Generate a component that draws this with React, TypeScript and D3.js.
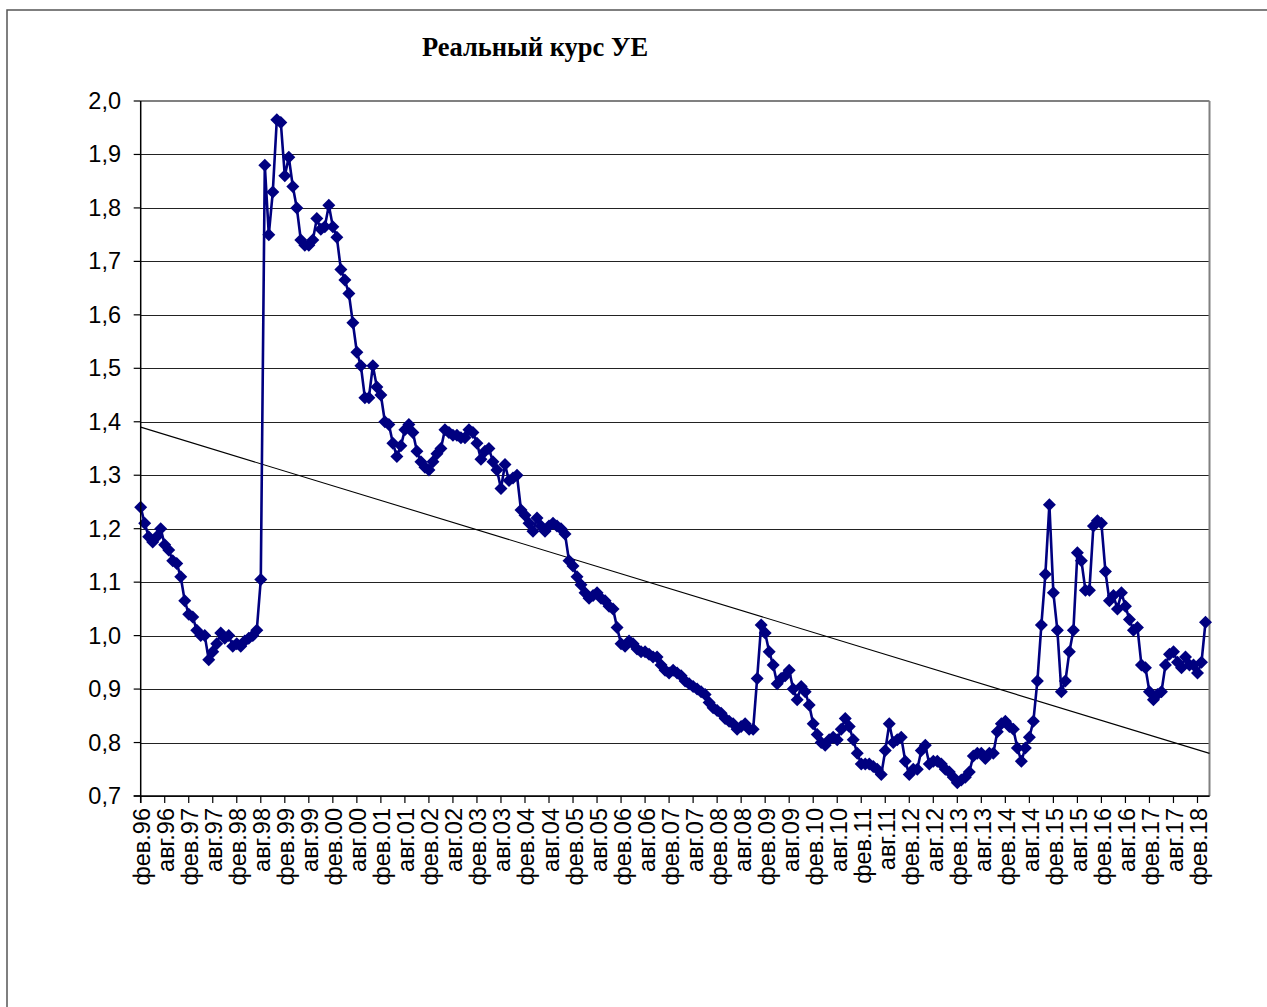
import React from "react";
import * as d3 from "d3";

// Real exchange rate, monthly from фев.96 to апр.18
const values: number[] = [
  1.24, 1.21, 1.185, 1.175, 1.185, 1.2, 1.17, 1.16, 1.14, 1.135,
  1.11, 1.065, 1.04, 1.035, 1.01, 1.0, 1.0, 0.955, 0.97, 0.985,
  1.005, 0.995, 1.0, 0.98, 0.985, 0.98, 0.99, 0.995, 1.0, 1.01,
  1.105, 1.88, 1.75, 1.83, 1.965, 1.96, 1.86, 1.895, 1.84, 1.8,
  1.74, 1.73, 1.73, 1.74, 1.78, 1.76, 1.765, 1.805, 1.765, 1.745,
  1.685, 1.665, 1.64, 1.585, 1.53, 1.505, 1.445, 1.445, 1.505, 1.465,
  1.45, 1.4, 1.395, 1.36, 1.335, 1.355, 1.385, 1.395, 1.38, 1.345,
  1.325, 1.315, 1.31, 1.325, 1.34, 1.35, 1.385, 1.38, 1.375, 1.375,
  1.37, 1.37, 1.385, 1.38, 1.36, 1.33, 1.345, 1.35, 1.325, 1.31,
  1.275, 1.32, 1.29, 1.295, 1.3, 1.235, 1.225, 1.21, 1.195, 1.22,
  1.205, 1.195, 1.205, 1.21, 1.205, 1.2, 1.19, 1.14, 1.13, 1.11,
  1.095, 1.08, 1.07, 1.075, 1.08, 1.07, 1.065, 1.055, 1.05, 1.015,
  0.985, 0.98, 0.99, 0.985, 0.975, 0.97, 0.97, 0.965, 0.96, 0.96,
  0.945, 0.935, 0.93, 0.935, 0.93, 0.925, 0.915, 0.91, 0.905, 0.9,
  0.895, 0.89, 0.875, 0.865, 0.86, 0.855, 0.845, 0.84, 0.835, 0.825,
  0.83, 0.835, 0.825, 0.825, 0.92, 1.02, 1.005, 0.97, 0.945, 0.91,
  0.92, 0.925, 0.935, 0.9, 0.88, 0.905, 0.895, 0.87, 0.835, 0.815,
  0.8, 0.795, 0.805, 0.81, 0.805, 0.825, 0.845, 0.83, 0.805, 0.78,
  0.76, 0.76, 0.76, 0.755, 0.75, 0.74, 0.785, 0.835, 0.8, 0.805,
  0.81, 0.765, 0.74, 0.75, 0.75, 0.785, 0.795, 0.76, 0.765, 0.765,
  0.76, 0.75, 0.745, 0.735, 0.725, 0.73, 0.735, 0.745, 0.775, 0.78,
  0.78, 0.77, 0.78, 0.78, 0.82, 0.835, 0.84, 0.83, 0.825, 0.79,
  0.765, 0.79, 0.81, 0.84, 0.915, 1.02, 1.115, 1.245, 1.08, 1.01,
  0.895, 0.915, 0.97, 1.01, 1.155, 1.14, 1.085, 1.085, 1.205, 1.215,
  1.21, 1.12, 1.065, 1.075, 1.05, 1.08, 1.055, 1.03, 1.01, 1.015,
  0.945, 0.94, 0.895, 0.88, 0.89, 0.895, 0.945, 0.965, 0.97, 0.95,
  0.94, 0.96, 0.945, 0.945, 0.93, 0.95, 1.025,
];

// Category tick labels every 6 months
const xTickLabels: string[] = [
  "фев.96", "авг.96", "фев.97", "авг.97", "фев.98", "авг.98", "фев.99", "авг.99",
  "фев.00", "авг.00", "фев.01", "авг.01", "фев.02", "авг.02", "фев.03", "авг.03",
  "фев.04", "авг.04", "фев.05", "авг.05", "фев.06", "авг.06", "фев.07", "авг.07",
  "фев.08", "авг.08", "фев.09", "авг.09", "фев.10", "авг.10", "фев.11", "авг.11",
  "фев.12", "авг.12", "фев.13", "авг.13", "фев.14", "авг.14", "фев.15", "авг.15",
  "фев.16", "авг.16", "фев.17", "авг.17", "фев.18",
];
const xTickStep = 6;

const yTicks: number[] = [0.7, 0.8, 0.9, 1.0, 1.1, 1.2, 1.3, 1.4, 1.5, 1.6, 1.7, 1.8, 1.9, 2.0];

// Linear trend: value at first month and at last month
const trendFirst = 1.39;
const trendLast = 0.782;

const title = "Реальный курс УЕ";

export default function App() {
  const W = 1267;
  const H = 1007;
  const left = 140.7;
  const right = 1209.5;
  const top = 101;
  const bottom = 796;

  const x = d3.scaleLinear().domain([0, 267]).range([left, right]);
  const y = d3.scaleLinear().domain([0.7, 2.0]).range([bottom, top]);

  const line = d3
    .line<number>()
    .x((_, i) => x(i))
    .y((d) => y(d));

  const n = values.length;
  const slope = (trendLast - trendFirst) / (n - 1);
  const trendAt = (i: number) => trendFirst + slope * i;
  const xEnd = x.domain()[1];

  const r = 6.5;
  const diamond = `M0,${-r}L${r},0L0,${r}L${-r},0Z`;

  const axisFont = "'Liberation Sans', Arial, Helvetica, sans-serif";

  return (
    <svg
      width={W}
      height={H}
      style={{ position: "absolute", left: 0, top: 0, background: "#fff" }}
    >
      <rect x={0} y={0} width={W} height={H} fill="#fff" />
      <rect x={7} y={10} width={W + 50} height={H + 50} fill="#fff" stroke="#555" strokeWidth={1.5} />

      <text
        x={535}
        y={56}
        textAnchor="middle"
        fontFamily="'Liberation Serif', 'Times New Roman', serif"
        fontWeight="bold"
        fontSize={26.5}
      >
        {title}
      </text>

      {/* gridlines */}
      {yTicks.map((t) => (
        <line
          key={"g" + t}
          x1={left}
          x2={right}
          y1={Math.round(y(t)) + 0.5}
          y2={Math.round(y(t)) + 0.5}
          stroke="#222"
          strokeWidth={1}
        />
      ))}

      {/* plot border top & right */}
      <line x1={left} x2={right} y1={top} y2={top} stroke="#808080" strokeWidth={2} />
      <line x1={right} x2={right} y1={top} y2={bottom} stroke="#808080" strokeWidth={2} />

      {/* trend line */}
      <line
        x1={x(0)}
        y1={y(trendAt(0))}
        x2={x(xEnd)}
        y2={y(trendAt(xEnd))}
        stroke="#000"
        strokeWidth={1.1}
      />

      {/* series */}
      <path d={line(values) || ""} fill="none" stroke="#000080" strokeWidth={2.6} strokeLinejoin="round" />
      {values.map((v, i) => (
        <path key={"m" + i} d={diamond} transform={`translate(${x(i)},${y(v)})`} fill="#000080" />
      ))}

      {/* axes */}
      <line x1={left} x2={left} y1={top} y2={bottom + 7} stroke="#000" strokeWidth={1.5} />
      <line x1={left - 7} x2={right} y1={bottom} y2={bottom} stroke="#000" strokeWidth={1.5} />

      {yTicks.map((t) => (
        <g key={"y" + t}>
          <line x1={left - 7} x2={left} y1={y(t)} y2={y(t)} stroke="#000" strokeWidth={1.2} />
          <text
            x={121}
            y={y(t)}
            textAnchor="end"
            dominantBaseline="central"
            fontFamily={axisFont}
            fontSize={23.5}
          >
            {t.toFixed(1).replace(".", ",")}
          </text>
        </g>
      ))}

      {xTickLabels.map((lab, k) => {
        const xi = x(k * xTickStep);
        return (
          <g key={"x" + k}>
            <line x1={xi} x2={xi} y1={bottom} y2={bottom + 7} stroke="#000" strokeWidth={1.2} />
            <text
              transform={`translate(${xi + 1.5},${808}) rotate(-90)`}
              textAnchor="end"
              dominantBaseline="central"
              fontFamily={axisFont}
              fontSize={23.5}
            >
              {lab}
            </text>
          </g>
        );
      })}
    </svg>
  );
}
